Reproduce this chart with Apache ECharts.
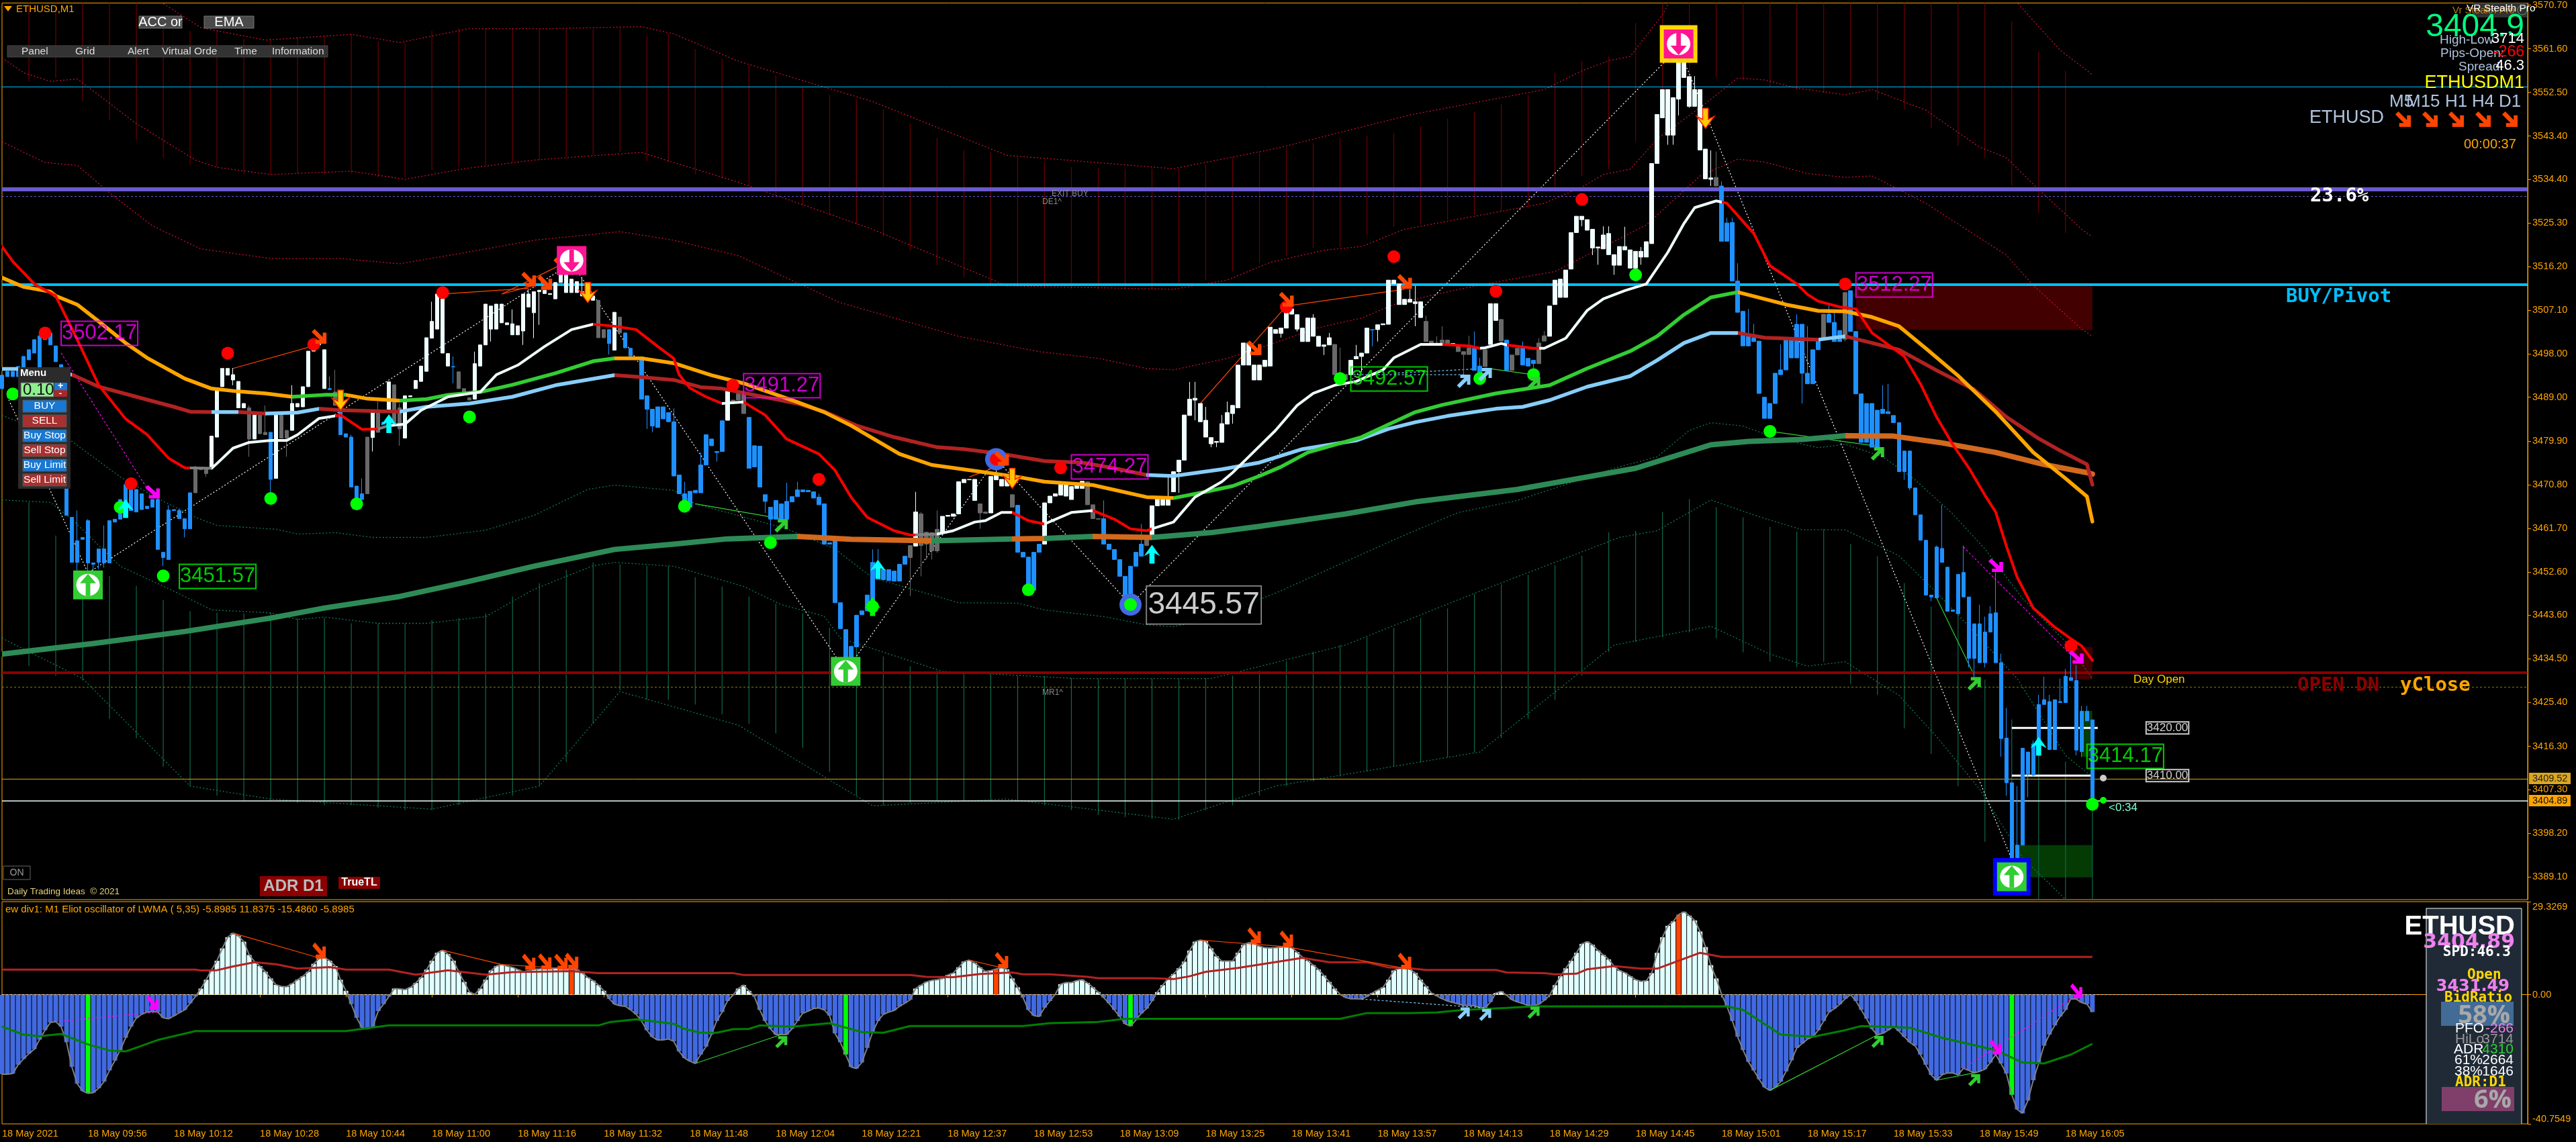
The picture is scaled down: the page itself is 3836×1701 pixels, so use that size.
<!DOCTYPE html>
<html><head><meta charset="utf-8">
<style>html,body{margin:0;padding:0;background:#000;overflow:hidden}#c{width:3836px;height:1701px}</style>
<script src="https://cdn.jsdelivr.net/npm/echarts@6/dist/echarts.min.js"></script></head>
<body><div id="c"></div>
<script>
const tickLabels=['18 May 2021','18 May 09:56','18 May 10:12','18 May 10:28','18 May 10:44','18 May 11:00','18 May 11:16','18 May 11:32','18 May 11:48','18 May 12:04','18 May 12:21','18 May 12:37','18 May 12:53','18 May 13:09','18 May 13:25','18 May 13:41','18 May 13:57','18 May 14:13','18 May 14:29','18 May 14:45','18 May 15:01','18 May 15:17','18 May 15:33','18 May 15:49','18 May 16:05'];
const priceTicks=[3570.7,3561.6,3552.5,3543.4,3534.4,3525.3,3516.2,3507.1,3498.0,3489.0,3479.9,3470.8,3461.7,3452.6,3443.6,3434.5,3425.4,3416.3,3407.3,3398.2,3389.1];
const oscTicks=[-40.7549,0,29.3269];
const bodyTop=[3493.6,3494.4,3494.4,3495.4,3497.5,3498.9,3501.0,3501.8,3501.8,3502.4,
3499.7,3495.8,3482.1,3464.0,3459.1,3459.8,3463.3,3454.5,3457.4,3457.4,
3463.3,3463.6,3467.7,3470.8,3470.8,3469.8,3468.9,3466.3,3467.7,3467.7,
3456.7,3465.5,3465.6,3465.4,3463.7,3469.1,3474.5,3474.2,3474.2,3480.9,
3490.9,3495.0,3495.0,3493.7,3492.3,3487.7,3486.8,3485.3,3485.3,3481.7,
3481.7,3485.3,3485.3,3482.1,3487.7,3487.7,3491.2,3498.6,3500.0,3500.2,
3498.9,3490.8,3490.1,3487.7,3481.4,3480.7,3470.5,3468.9,3480.7,3485.9,
3486.3,3483.8,3492.2,3491.6,3486.8,3489.3,3489.3,3492.5,3495.5,3501.4,
3504.8,3510.5,3510.5,3498.1,3495.4,3494.3,3490.8,3488.9,3496.0,3499.9,
3508.4,3508.0,3508.4,3508.4,3504.5,3504.3,3503.9,3510.5,3510.5,3511.0,
3511.3,3511.3,3510.6,3512.9,3514.8,3514.5,3513.6,3513.1,3511.0,3512.6,
3510.1,3509.2,3503.1,3503.1,3506.7,3505.7,3502.4,3499.2,3497.4,3497.4,
3489.3,3486.5,3487.0,3487.0,3485.8,3483.9,3472.8,3468.9,3469.4,3469.6,
3474.9,3481.2,3480.3,3477.7,3484.1,3490.5,3488.4,3489.7,3489.7,3484.8,
3478.9,3478.8,3468.7,3466.1,3467.5,3466.8,3467.3,3468.3,3469.7,3469.7,
3469.6,3469.3,3468.2,3466.8,3458.7,3459.4,3446.2,3440.6,3437.1,3443.6,
3444.5,3447.8,3454.6,3453.1,3453.1,3453.1,3452.8,3454.2,3455.9,3458.1,
3465.1,3464.7,3460.9,3460.8,3461.5,3464.2,3464.4,3464.7,3471.4,3471.9,
3471.9,3471.9,3466.8,3465.1,3472.5,3472.8,3471.9,3472.4,3468.7,3466.5,
3456.7,3455.7,3456.7,3458.4,3467.0,3468.4,3468.9,3470.8,3471.0,3470.4,
3471.1,3471.5,3471.4,3466.6,3463.7,3463.7,3458.4,3457.3,3455.2,3451.7,
3453.8,3456.7,3458.4,3459.5,3466.4,3467.9,3467.7,3467.9,3473.5,3475.9,
3485.3,3488.6,3488.8,3487.7,3484.2,3480.6,3479.8,3483.5,3485.8,3487.3,
3495.7,3500.3,3500.3,3495.7,3495.7,3496.7,3503.6,3503.1,3503.4,3507.6,
3507.4,3506.2,3503.4,3505.5,3505.5,3501.7,3499.9,3501.4,3500.0,3493.7,
3493.7,3496.7,3497.5,3498.2,3503.4,3503.1,3504.1,3504.3,3513.4,3513.4,
3512.6,3509.4,3509.4,3508.9,3508.9,3504.8,3500.7,3500.3,3500.9,3500.9,
3500.2,3499.6,3498.5,3499.3,3499.2,3495.5,3498.9,3508.5,3508.5,3505.2,
3500.9,3497.8,3499.2,3499.2,3497.1,3496.7,3500.3,3501.8,3508.0,3513.4,
3513.6,3515.5,3523.3,3526.7,3526.7,3526.0,3524.0,3520.3,3522.8,3523.1,
3518.7,3520.4,3520.4,3519.7,3519.4,3519.4,3521.4,3537.7,3547.9,3553.1,
3553.1,3551.4,3561.9,3560.8,3555.8,3553.1,3553.1,3540.7,3534.7,3534.8,
3533.0,3525.3,3525.4,3513.2,3506.9,3501.7,3501.4,3500.7,3489.0,3487.7,
3494.0,3494.7,3501.1,3500.9,3504.2,3504.2,3494.0,3498.9,3500.9,3506.3,
3506.3,3504.6,3502.9,3510.8,3511.2,3502.7,3489.7,3487.7,3487.7,3486.3,
3486.5,3486.0,3485.2,3483.7,3477.8,3477.8,3470.1,3464.5,3459.2,3447.8,
3457.8,3457.5,3453.6,3444.7,3452.1,3452.5,3447.4,3441.8,3441.8,3440.1,
3443.9,3444.1,3433.7,3418.0,3408.7,3395.7,3415.9,3415.1,3416.8,3425.0,
3426.0,3425.6,3426.0,3425.6,3430.9,3430.6,3430.0,3423.6,3423.6,3421.8];
const bodyBottom=[3490.8,3493.3,3493.3,3493.3,3494.7,3496.8,3498.2,3493.3,3501.0,3499.9,
3496.4,3482.1,3464.4,3454.6,3454.6,3459.4,3454.5,3454.2,3454.6,3454.5,
3454.5,3463.0,3463.6,3464.0,3465.4,3465.1,3465.6,3465.8,3466.1,3457.3,
3455.6,3455.2,3465.4,3463.7,3461.6,3461.6,3469.1,3473.9,3473.1,3474.2,
3480.7,3491.2,3493.6,3492.6,3486.8,3486.8,3480.3,3480.3,3481.4,3481.2,
3471.9,3472.1,3480.5,3480.5,3482.1,3487.0,3487.0,3491.2,3498.6,3499.9,
3490.8,3490.6,3487.3,3481.2,3480.7,3470.3,3467.9,3467.7,3468.9,3480.6,
3481.7,3483.4,3486.3,3483.5,3482.4,3480.5,3489.1,3490.8,3492.3,3494.4,
3501.3,3503.2,3498.2,3495.5,3495.3,3490.8,3489.8,3488.4,3488.6,3495.5,
3499.9,3503.2,3503.2,3504.5,3504.1,3502.0,3502.0,3502.8,3507.8,3506.6,
3511.0,3510.6,3510.4,3509.5,3512.9,3510.8,3510.8,3510.8,3510.1,3510.1,
3509.2,3501.4,3501.4,3500.2,3498.8,3502.4,3499.3,3497.6,3497.1,3488.6,
3486.5,3483.0,3482.7,3484.5,3483.9,3472.6,3468.9,3466.1,3466.1,3469.1,
3469.1,3474.9,3478.9,3477.5,3477.7,3484.2,3487.9,3488.4,3485.6,3474.2,
3474.5,3470.3,3467.3,3463.6,3463.6,3463.6,3463.6,3467.2,3468.3,3469.3,
3469.3,3468.0,3466.6,3458.4,3458.4,3446.2,3440.8,3434.2,3434.2,3437.0,
3443.7,3444.5,3445.8,3451.1,3451.0,3450.8,3450.7,3450.7,3454.2,3455.6,
3458.0,3458.1,3458.4,3457.0,3457.0,3460.8,3464.2,3464.2,3464.7,3471.2,
3471.8,3467.5,3464.9,3464.8,3464.9,3471.8,3470.5,3470.5,3466.1,3456.7,
3455.7,3448.8,3448.8,3456.7,3458.4,3467.0,3468.4,3468.6,3468.4,3467.7,
3470.0,3470.0,3466.6,3463.7,3463.6,3458.4,3457.3,3455.2,3451.7,3447.6,
3447.0,3453.8,3455.9,3458.1,3460.2,3466.4,3466.5,3466.5,3469.3,3473.5,
3475.9,3485.2,3488.4,3483.9,3480.7,3479.3,3479.6,3479.6,3483.4,3485.6,
3486.8,3495.7,3495.7,3492.6,3492.6,3495.4,3495.5,3502.3,3502.3,3503.4,
3506.3,3503.2,3500.6,3500.6,3501.7,3499.6,3499.6,3499.9,3493.7,3492.6,
3492.6,3493.7,3497.0,3497.5,3498.2,3503.0,3503.1,3504.1,3504.2,3512.6,
3508.3,3508.3,3508.8,3508.5,3505.6,3500.6,3500.2,3500.0,3500.0,3500.0,
3499.9,3498.5,3497.9,3497.9,3494.6,3493.7,3495.4,3500.0,3505.0,3500.7,
3494.6,3494.6,3497.8,3495.7,3495.5,3496.0,3496.0,3500.7,3501.7,3508.3,
3509.8,3509.8,3515.7,3523.3,3526.0,3523.8,3520.1,3520.1,3519.9,3518.7,
3516.5,3516.5,3519.7,3515.9,3515.9,3518.2,3518.2,3521.0,3537.7,3547.2,
3543.6,3543.6,3551.1,3555.6,3549.6,3549.6,3540.5,3534.5,3534.4,3533.0,
3521.5,3521.5,3513.2,3506.7,3499.7,3499.7,3500.6,3489.8,3484.6,3484.6,
3487.7,3493.7,3494.7,3497.2,3497.2,3494.0,3491.8,3491.8,3498.9,3500.9,
3504.6,3500.6,3500.6,3501.1,3502.7,3489.7,3479.6,3479.6,3478.6,3478.6,
3485.6,3485.6,3483.7,3473.5,3473.5,3470.1,3464.5,3459.2,3447.8,3447.4,
3447.2,3454.6,3444.4,3444.4,3443.9,3447.4,3434.6,3434.6,3433.7,3433.7,
3440.1,3433.7,3417.9,3408.7,3392.6,3392.3,3395.7,3410.5,3410.3,3416.8,
3425.0,3415.6,3415.6,3425.4,3425.4,3430.0,3415.5,3415.2,3421.6,3404.89];
const wickHighs=[[14,3465.4],[16,3463.6],[19,3462.3],[29,3467.9],[31,3466.5],[33,3465.8],[36,3474.7],[43,3495.1],[46,3487.3],[49,3487.3],[54,3491.5],[61,3493.3],[62,3494.7],[65,3481.2],[67,3472.1],[70,3488.1],[74,3487.7],[77,3492.6],[80,3508.9],[84,3497.5],[88,3498.5],[95,3507.3],[98,3511.5],[104,3516.4],[108,3514.0],[125,3486.7],[127,3471.4],[130,3477.5],[146,3471.2],[148,3471.4],[152,3468.9],[162,3457.3],[163,3457.4],[170,3469.3],[171,3465.1],[174,3465.4],[185,3474.2],[205,3467.5],[212,3462.6],[217,3472.8],[221,3492.2],[222,3492.2],[224,3487.0],[227,3485.3],[228,3488.1],[244,3506.3],[247,3502.4],[249,3499.3],[252,3499.9],[262,3511.5],[263,3512.2],[265,3506.0],[267,3501.7],[268,3503.8],[273,3501.8],[274,3502.7],[275,3497.2],[283,3500.6],[286,3501.3],[287,3502.8],[298,3524.6],[299,3524.6],[302,3524.5],[305,3520.3],[308,3540.2],[312,3563.6],[315,3555.9],[318,3540.4],[319,3540.2],[320,3534.0],[321,3526.4],[322,3526.4],[323,3516.9],[325,3507.4],[326,3504.3],[331,3500.0],[334,3506.3],[336,3503.8],[340,3508.3],[341,3506.6],[350,3491.5],[351,3491.8],[361,3466.5],[360,3458.1],[365,3458.1],[368,3445.8],[369,3443.3],[370,3445.5],[371,3452.5],[372,3435.6],[373,3424.3],[375,3408.0],[378,3417.5],[379,3427.0],[380,3430.8],[381,3427.0],[383,3430.4],[384,3432.4],[385,3437.1],[386,3433.2],[387,3424.7],[388,3424.7]];
const wickLows=[[14,3452.8],[16,3449.6],[17,3452.4],[18,3453.2],[19,3453.5],[30,3453.8],[34,3459.8],[38,3472.4],[43,3491.5],[46,3476.6],[50,3468.2],[53,3476.6],[69,3477.7],[74,3478.9],[84,3491.9],[91,3500.6],[97,3499.9],[99,3501.3],[100,3504.1],[113,3497.9],[120,3482.4],[121,3481.7],[127,3464.9],[133,3475.6],[142,3464.9],[143,3460.0],[169,3447.6],[171,3451.7],[172,3455.2],[173,3455.2],[174,3456.6],[182,3461.6],[219,3469.1],[222,3484.2],[225,3478.6],[226,3478.6],[227,3479.6],[229,3483.5],[238,3501.4],[241,3502.7],[245,3499.9],[246,3497.8],[253,3494.3],[255,3499.6],[256,3500.6],[263,3503.8],[272,3493.7],[285,3493.3],[294,3524.6],[296,3518.6],[297,3516.6],[300,3514.5],[304,3513.2],[305,3516.6],[307,3533.7],[310,3541.6],[311,3541.6],[312,3547.7],[314,3549.3],[318,3533.0],[335,3487.7],[343,3500.6],[354,3471.8],[355,3469.6],[359,3446.5],[366,3432.7],[367,3430.4],[369,3432.7],[372,3414.1],[373,3406.0],[374,3388.7],[377,3405.7],[378,3409.9],[386,3414.4],[387,3414.1]];
const candleRuns=[[0,'b'],[36,'g'],[39,'w'],[46,'g'],[47,'w'],[48,'g'],[50,'b'],[51,'w'],[52,'g'],[54,'w'],[61,'b'],[62,'g'],[63,'b'],[68,'g'],[69,'w'],[70,'g'],[71,'b'],[72,'w'],[73,'g'],[75,'w'],[84,'b'],[85,'g'],[88,'w'],[111,'g'],[113,'b'],[114,'w'],[115,'g'],[116,'b'],[135,'w'],[136,'g'],[139,'b'],[169,'g'],[170,'w'],[171,'g'],[175,'w'],[182,'g'],[184,'w'],[188,'g'],[189,'b'],[194,'w'],[202,'g'],[205,'b'],[213,'g'],[214,'w'],[248,'g'],[251,'w'],[255,'b'],[256,'w'],[265,'g'],[270,'w'],[271,'g'],[274,'b'],[276,'g'],[277,'w'],[279,'g'],[280,'b'],[281,'g'],[283,'b'],[286,'g'],[288,'w'],[319,'g'],[320,'b'],[339,'g'],[340,'b'],[343,'g'],[344,'b']];
const fastMA=[[0,3520.4],[2,3517.3],[6,3512.6],[10,3510.1],[14,3501.0],[18,3491.5],[23,3484.5],[27,3481.2],[31,3476.3],[34,3474.3],[39,3474.2],[40,3475.2],[43,3478.4],[46,3479.6],[50,3480.0],[53,3480.0],[55,3481.2],[59,3484.6],[63,3485.3],[67,3482.3],[70,3482.4],[72,3483.1],[75,3483.4],[78,3486.3],[83,3489.1],[89,3490.1],[92,3493.7],[96,3495.7],[101,3499.6],[106,3503.1],[110,3504.2],[114,3503.8],[118,3503.1],[122,3499.6],[125,3497.1],[126,3493.7],[128,3490.9],[131,3489.1],[134,3487.7],[138,3488.0],[142,3485.3],[146,3480.3],[152,3477.2],[155,3473.8],[158,3468.2],[161,3464.0],[166,3461.2],[169,3460.3],[174,3460.5],[177,3461.2],[181,3463.0],[183,3463.3],[186,3465.0],[188,3465.0],[191,3463.3],[194,3462.6],[199,3465.0],[203,3465.4],[207,3463.6],[210,3461.6],[213,3461.2],[214,3461.6],[218,3463.0],[222,3468.2],[227,3471.4],[229,3473.3],[232,3476.6],[237,3482.1],[241,3487.3],[244,3489.8],[248,3491.5],[252,3492.3],[257,3494.7],[259,3497.2],[264,3500.0],[268,3500.0],[273,3499.7],[275,3499.2],[276,3499.3],[279,3500.2],[280,3499.9],[285,3499.2],[287,3499.2],[291,3501.3],[295,3507.1],[298,3509.5],[302,3511.2],[306,3512.6],[310,3519.2],[313,3525.2],[315,3528.5],[319,3529.9],[321,3529.4],[326,3523.1],[329,3516.4],[334,3512.6],[336,3510.4],[338,3509.0],[342,3507.8],[345,3507.4],[348,3502.4],[354,3497.5],[357,3491.8],[360,3484.9],[363,3479.2],[366,3474.3],[369,3468.6],[371,3465.1],[373,3458.0],[375,3451.5],[378,3445.1],[382,3441.1],[385,3438.7],[387,3437.2],[389,3434.2]];
const midMA=[[0,3513.9],[4,3512.0],[9,3511.0],[10,3510.1],[14,3508.3],[18,3504.8],[23,3500.3],[27,3497.2],[34,3492.9],[39,3490.8],[44,3490.2],[49,3489.8],[54,3489.1],[60,3489.5],[64,3489.5],[68,3488.7],[74,3488.3],[79,3488.6],[83,3489.5],[89,3490.1],[95,3491.6],[103,3494.0],[110,3496.5],[114,3497.1],[119,3497.1],[125,3496.1],[132,3493.6],[138,3491.9],[148,3488.0],[153,3485.9],[158,3483.1],[167,3477.2],[173,3474.9],[182,3473.5],[189,3472.4],[194,3471.4],[203,3470.7],[213,3468.2],[218,3468.0],[224,3469.3],[229,3470.5],[234,3472.6],[238,3474.5],[243,3477.5],[253,3480.7],[263,3485.9],[268,3487.4],[278,3489.8],[288,3491.5],[295,3495.0],[303,3498.6],[308,3501.7],[313,3506.2],[318,3509.8],[323,3510.9],[332,3508.3],[338,3507.0],[343,3506.9],[348,3505.7],[353,3503.8],[358,3499.2],[364,3493.5],[371,3486.0],[378,3477.5],[384,3472.1],[388,3468.3],[389,3463.1]];
const slowMA=[[0,3494.9],[3,3494.9],[13,3493.7],[18,3491.2],[25,3489.1],[32,3487.0],[35,3486.0],[39,3485.9],[44,3485.9],[49,3485.6],[55,3485.8],[59,3486.6],[63,3486.3],[74,3486.0],[79,3487.0],[87,3487.7],[95,3489.1],[103,3491.5],[114,3493.6],[119,3493.2],[125,3492.6],[130,3491.1],[134,3490.8],[148,3487.7],[153,3486.0],[159,3483.1],[166,3480.7],[174,3478.6],[179,3478.2],[186,3477.2],[194,3475.7],[201,3475.4],[207,3474.2],[213,3472.8],[218,3472.6],[227,3474.0],[234,3475.4],[242,3478.2],[252,3480.0],[258,3482.4],[263,3483.8],[269,3485.1],[278,3486.6],[283,3487.0],[288,3488.4],[295,3491.2],[303,3493.4],[308,3496.7],[313,3500.3],[318,3502.4],[323,3502.4],[328,3501.4],[338,3501.0],[343,3501.7],[353,3498.9],[360,3494.6],[367,3490.6],[373,3484.9],[379,3480.4],[383,3477.9],[388,3475.0],[389,3470.8]];
const trendMA=[[0,3435.5],[17,3437.7],[34,3440.2],[50,3443.0],[60,3445.1],[74,3447.5],[86,3450.4],[99,3453.8],[114,3457.3],[125,3458.4],[135,3459.5],[148,3460.0],[158,3459.4],[168,3459.2],[173,3459.1],[188,3459.5],[194,3459.6],[203,3460.0],[214,3459.8],[225,3460.8],[234,3462.1],[250,3464.7],[263,3467.2],[282,3469.8],[295,3472.4],[304,3474.2],[318,3479.1],[325,3479.8],[335,3480.2],[343,3481.0],[352,3480.9],[361,3479.5],[371,3477.5],[380,3475.0],[388,3473.3],[389,3473.0]];
const fastRuns=[[0,35,'r'],[35,39,'g'],[39,62,'w'],[62,70,'r'],[70,72,'g'],[72,110,'w'],[110,134,'r'],[134,138,'w'],[138,170,'r'],[170,174,'g'],[174,188,'w'],[188,194,'r'],[194,203,'w'],[203,214,'r'],[214,268,'w'],[268,275,'r'],[275,280,'w'],[280,286,'r'],[286,320,'w'],[320,390,'r']];
const midRuns=[[0,54,'o'],[54,64,'l'],[64,74,'o'],[74,114,'l'],[114,218,'o'],[218,323,'l'],[323,390,'o']];
const slowRuns=[[0,13,'s'],[13,39,'f'],[39,44,'s'],[44,49,'f'],[49,59,'s'],[59,74,'f'],[74,114,'s'],[114,213,'f'],[213,323,'s'],[323,338,'f'],[338,343,'s'],[343,390,'f']];
const trendRuns=[[0,148,'e'],[148,173,'c'],[173,188,'e'],[188,194,'c'],[194,203,'e'],[203,214,'c'],[214,343,'e'],[343,390,'c']];
const redBandA=[[29,3575],[30,3571],[37,3566],[49,3563.4],[65,3564.6],[74,3562.9],[87,3565.8],[103,3565.8],[119,3566.2],[125,3564.7],[137,3559],[162,3550.6],[187,3539.4],[218,3536.6],[237,3540.8],[262,3547.8],[287,3553.1],[294,3557],[299,3559.1],[303,3560],[309,3568.7],[312,3575],[372,3575],[377,3568.7],[383,3561.3],[387,3557.9],[389,3556.2]];
const redBandB=[[0,3559.7],[4,3556.6],[9,3554.8],[14,3555.3],[25,3546],[36,3538.4],[40,3536.9],[50,3535.4],[65,3536.1],[75,3534.4],[86,3536.6],[99,3538.4],[111,3539.4],[119,3540],[125,3537.9],[137,3533.8],[162,3524],[187,3512.2],[218,3511.5],[228,3513.4],[236,3517.1],[246,3519.6],[253,3520.4],[261,3524],[287,3529.4],[294,3532.8],[298,3535.4],[303,3536.5],[308,3542.8],[317,3550.2],[323,3555.5],[328,3555.1],[334,3553.4],[343,3552],[348,3553.1],[358,3548.8],[368,3541.1],[373,3538.9],[379,3532.3],[387,3524],[389,3522.4]];
const redBandC=[[0,3542.2],[8,3537.9],[14,3537.3],[20,3531.6],[28,3524.7],[37,3519.9],[50,3517.9],[63,3517.9],[74,3516.8],[85,3518.9],[99,3521.7],[115,3523.5],[125,3521.7],[137,3518.5],[156,3508.7],[178,3501.7],[193,3498.5],[204,3497.1],[213,3495],[218,3494.7],[228,3497.1],[236,3500],[245,3503.5],[253,3505.5],[259,3508.3],[267,3510.5],[276,3512.6],[289,3515.2],[296,3519.2],[306,3524.9],[316,3535.1],[323,3538.6],[328,3538],[336,3535.6],[343,3534.8],[348,3535.1],[358,3529.4],[373,3518.6],[378,3512.3],[387,3503.2],[389,3501.7]];
const greenBandU=[[0,3485.2],[13,3479.8],[22,3472.4],[29,3467.9],[36,3464],[40,3462.3],[51,3461.5],[55,3460.5],[62,3460.8],[69,3459.8],[79,3459.8],[90,3461.3],[99,3464.4],[109,3469.8],[114,3470.7],[125,3469.6],[129,3466.8],[146,3461.6],[155,3457.4],[162,3451.4],[178,3446.2],[189,3446.1],[194,3444.7],[205,3443.3],[213,3441.6],[218,3441.2],[225,3443],[237,3448.2],[260,3459.8],[271,3465],[282,3467.5],[300,3474.2],[308,3476.6],[314,3482.1],[318,3483.7],[324,3483],[330,3480.5],[338,3478.5],[343,3479.2],[350,3476.6],[356,3471.8],[363,3464.7],[369,3457.4],[376,3447.1],[384,3438.1],[389,3430.4]];
const greenBandM=[[0,3467.6],[9,3467.1],[13,3463.6],[22,3453.8],[32,3448.6],[39,3444.7],[50,3444.1],[55,3442.7],[60,3443.2],[70,3441.9],[79,3441.9],[90,3443.3],[99,3449],[110,3453.9],[114,3454.6],[125,3453.8],[138,3449.6],[145,3445.8],[153,3443.4],[156,3438.8],[175,3431.9],[200,3430.4],[225,3430.4],[250,3437.4],[275,3448.6],[301,3459.8],[308,3461.2],[318,3467.6],[327,3464.1],[335,3461.4],[343,3461.4],[353,3456],[360,3448.3],[366,3441.3],[375,3430.4],[384,3414.4],[389,3409.9]];
const greenBandB=[[0,3438.8],[15,3430.4],[35,3408],[50,3405.3],[80,3403.2],[100,3408],[115,3427.7],[137,3420.7],[162,3403.9],[187,3405.3],[218,3401.1],[237,3408],[275,3415.1],[300,3437.4],[318,3441.3],[329,3435.5],[336,3433],[343,3433.9],[353,3426.9],[360,3418.3],[368,3407.4],[376,3393.1],[384,3384.4]];
const redFan=[[5,3572,3554.8],[10,3572,3555.5],[15,3572,3550.6],[20,3572,3546.7],[25,3572,3542.6],[30,3565.7,3538.9],[35,3565.3,3537.3],[40,3565.3,3536.9],[45,3563.7,3535.5],[50,3563.7,3535.4],[55,3564,3535.5],[60,3564.3,3535.5],[65,3564.6,3535.6],[70,3563.2,3534.8],[75,3562.9,3534.8],[80,3565.3,3536.3],[85,3565.9,3536.9],[90,3565.8,3537.3],[95,3565.8,3537.9],[100,3565.8,3538.4],[105,3565.7,3539.1],[110,3565.7,3539.4],[115,3566.2,3540.1],[120,3564.3,3538.2],[124,3564.7,3537.9],[129,3561.5,3535.5],[134,3559.5,3534.5],[139,3558,3533],[144,3556,3531],[149,3553.5,3529],[154,3552,3527],[159,3551,3525],[164,3549,3522.5],[169,3546,3519.5],[174,3543,3516.5],[179,3540.5,3514],[184,3540,3512.5],[189,3539,3512],[194,3538,3511.8],[199,3537,3511.6],[204,3536.8,3511.5],[209,3536.6,3511.5],[214,3536.6,3511.5],[219,3536.6,3512.9],[224,3537.5,3513.4],[229,3539,3515.2],[234,3540,3516.9],[239,3541,3518.5],[244,3542,3520.1],[249,3543,3520.3],[254,3543.5,3522.9],[259,3544,3524.5],[264,3545.5,3525],[269,3547,3526],[274,3548.5,3527],[279,3550,3527.7],[284,3552,3528.5],[289,3556.6,3532.8],[294,3559.1,3535.1],[299,3560,3536.5],[304,3567,3542.2],[309,3572,3549.3],[314,3572,3551.3],[319,3572,3555.6],[324,3572,3555.2],[329,3572,3553.7],[334,3572,3553.1],[339,3572,3552.3],[344,3572,3553.4],[349,3572,3550.9],[354,3572,3549],[359,3572,3545.1],[364,3572,3541.4],[369,3572,3538.9],[374,3567.3,3533.1],[379,3561,3527.4],[384,3557,3523.2]];
const greenFan=[[5,3467.1,3433],[10,3460.2,3431],[15,3452.4,3430],[20,3451.8,3422],[25,3449.7,3418],[30,3446.8,3412],[35,3444.4,3408],[40,3444.1,3406],[45,3444,3405],[50,3444.1,3405],[55,3443,3404.5],[60,3443,3404],[65,3441.9,3404],[70,3441.9,3403.5],[75,3441.9,3403],[80,3442.6,3403],[85,3443,3404],[90,3444,3405],[95,3447.5,3406],[100,3450.3,3408],[105,3453.1,3413],[110,3454.6,3421],[115,3454.2,3428],[120,3453.9,3426],[124,3453.9,3426],[129,3451.5,3425],[134,3449.6,3423],[139,3447.5,3421],[144,3446,3419],[149,3444,3416],[154,3441,3411],[159,3437,3406],[164,3435,3404],[169,3433,3404.5],[174,3432,3405],[179,3431.7,3405],[184,3431.5,3405],[189,3431,3405],[194,3431,3404],[199,3430.5,3403],[204,3430.4,3402],[209,3430.4,3401.5],[214,3430.4,3401.2],[219,3430.4,3401],[224,3430.5,3403],[229,3431,3404],[234,3432,3406],[239,3434,3408],[244,3436,3409],[249,3437.4,3410],[254,3439,3411],[259,3441,3412],[264,3443,3413],[269,3445,3414],[274,3448,3415],[279,3450,3418],[284,3452,3422],[289,3454,3426],[294,3456,3431],[299,3460.9,3436],[304,3461.2,3438],[309,3465.1,3439],[314,3467.8,3440],[319,3466.1,3438.8],[324,3464,3435.9],[329,3462,3433.9],[334,3461,3432.8],[339,3461.5,3433.9],[344,3458.4,3429.3],[349,3455.9,3427],[354,3450.3,3420],[359,3445.4,3414.7],[364,3443.9,3408],[369,3430.2,3396.4],[374,3421.9,3388.7],[379,3416.9,3384.4],[384,3413.1,3384.4],[389,3404.8,3384.4]];
const levelThinCyan=3553.66,levelPurple=3532.36,levelPurpleDash=3530.9,levelPivot=3512.45,levelOpen=3431.6,levelOpenDash=3428.6,levelAsk=3409.52,levelBid=3404.89;
const shortLevels=[[374,3420.1,390],[374,3410.2,389]];
const zones=[[345,389,3512.3,3503.0,'r'],[385,389,3437,3430.2,'r'],[375,389,3395.7,3389,'g'],[387,389,3423.7,3414.1,'g']];
const zigzag=[[1,3489.1],[16,3452.4],[106,3517],[157,3431.9],[185,3476.1],[210,3445.8],[312,3561.8],[374,3392.7]];
const trendOrange=[[[43,3495],[58,3499.7]],[[82,3510.5],[98,3511.7]],[[93,3510.5],[104,3516.6]],[[93,3510.5],[101,3512.9]],[[180,3472.4],[186,3474.9]],[[223,3487.7],[239,3508]],[[239,3508],[261,3511.5]]];
const trendGreen=[[[129,3466.8],[145,3463.7]],[[276,3495.1],[285,3493.7]],[[329,3481.9],[349,3478.8]],[[360,3447.2],[367,3431.1]]];
const trendMagenta=[[[11,3498.2],[27,3470]],[[365,3457.8],[385,3435.3]]];
const trendLight=[[[250,3493.7],[272,3493.7]],[[259,3494],[276,3495]]];
const redDots=[[8,3502.4],[24,3471],[42,3498.2],[58,3500],[82,3510.8],[136,3491.5],[152,3471.9],[185,3476.1],[197,3474.3],[239,3507.8],[259,3518.3],[278,3511.1],[294,3530.2],[343,3512.6],[385,3437.2]];
const greenDots=[[2,3489.7],[22,3466.1],[30,3451.8],[50,3467.9],[66,3466.8],[87,3484.9],[127,3466.3],[143,3458.7],[162,3445.4],[191,3448.9],[210,3445.8],[249,3492.9],[275,3492.9],[285,3493.7],[304,3514.5],[329,3481.9],[389,3404.2]];
const haloDots=[[185,3476.1],[210,3445.8]];
const arrowsOrange=[[59,3501.7],[98,3513.6],[101,3512.9],[104,3516.6],[106,3518.9],[186,3476.3],[233,3499.3],[239,3509.4],[261,3513.1]];
const arrowsMagenta=[[28,3469.3],[371,3454],[386,3434.9]];
const arrowsGreen=[[145,3462.2],[285,3491.9],[349,3477.2],[367,3429.3]];
const arrowsLight=[[272,3492.3],[276,3493.7]];
const arrowsCyan=[[23,3465.8],[72,3483.5],[163,3453.2],[214,3456.3],[379,3416.3]];
const arrowsLime=[[162,3445.4]];
const arrowsGold=[[63,3488.4],[109,3510.8],[188,3472.1],[317,3547.1]];
const iconsDown=[[106,3517.5],[312,3562.6]];
const iconsUp=[[16,3449.9],[157,3431.9],[374,3389.1]];
const iconFrames=[[312,3562.6],[374,3389.1]];
const priceTags=[[11,3502.3,'3502.17'],[33,3451.7,'3451.57'],[138,3491.4,'3491.27'],[199,3474.5,'3474.27'],[213,3445.7,'3445.57'],[251,3492.8,'3492.57'],[345,3512.4,'3512.27'],[388,3414.2,'3414.17'],[399,3420.1,'3420.00'],[399,3410.2,'3410.00']];
const oscValues=[-25.1,-25.1,-24.9,-22.1,-20.3,-18.6,-17.2,-14.2,-11.2,-8.8,-8.5,-10.1,-15.0,-22.8,-28.1,-30.4,-31.1,-30.9,-29.5,-27.4,-23.9,-20.8,-17.5,-13.6,-10.1,-7.4,-6.2,-5.5,-5.3,-5.5,-7.3,-7.6,-6.7,-5.7,-4.8,-2.7,-0.6,1.9,4.7,7.9,10.7,14.6,18.1,19.4,18.5,16.7,12.5,10.4,9.0,7.2,5.1,3.1,2.6,2.5,3.5,4.7,5.8,7.2,9.7,11.4,11.6,10.7,9.0,4.7,1.2,-3.0,-7.3,-10.4,-10.8,-10.1,-5.2,-3.0,-0.6,1.9,1.8,1.6,2.3,3.7,5.4,7.9,10.7,13.2,14.0,12.8,10.7,7.2,4.0,0.8,0.1,1.9,4.7,7.6,9.0,9.5,9.0,8.6,7.9,7.2,7.6,8.0,8.1,8.3,8.1,8.3,8.4,8.1,8.1,7.9,6.8,5.4,4.4,3.0,1.2,-1.3,-3.0,-3.5,-3.7,-4.8,-6.2,-8.3,-11.2,-13.3,-14.3,-14.3,-14.0,
-14.7,-17.9,-20.0,-21.0,-21.7,-18.9,-16.4,-12.6,-8.3,-5.5,-2.0,-0.2,1.9,3.0,1.2,-0.6,-4.8,-8.3,-10.8,-12.6,-12.6,-12.6,-10.8,-8.3,-5.9,-5.2,-4.4,-4.2,-4.8,-6.6,-12.2,-15.0,-18.9,-22.8,-23.3,-21.4,-16.8,-11.9,-8.3,-6.2,-5.5,-5.0,-3.7,-2.7,-1.6,1.9,3.0,4.0,4.5,4.7,5.1,6.2,6.8,8.6,10.4,10.9,10.0,8.6,7.3,7.6,8.1,8.5,8.0,5.1,2.3,-0.9,-4.8,-6.6,-6.9,-4.1,-2.0,0.1,3.3,3.8,3.8,4.4,4.7,3.7,2.3,0.8,-0.9,-2.7,-4.8,-6.9,-9.2,-9.9,-8.0,-5.9,-4.4,-2.0,0.8,3.0,5.1,6.5,8.3,10.4,13.9,16.7,17.2,16.9,14.6,12.1,10.6,10.6,10.6,13.2,15.7,16.4,16.2,15.3,14.8,14.7,14.8,15.0,15.1,14.8,13.4,11.8,10.7,9.3,7.9,6.0,4.0,1.9,0.1,-0.9,-1.3,-1.3,-1.4,-0.6,0.5,1.4,2.3,4.7,7.6,8.3,8.3,
8.0,6.8,4.7,2.6,0.5,-0.4,-1.3,-2.0,-2.5,-2.9,-3.4,-3.4,-3.5,-4.1,-4.2,-2.3,0.5,1.0,-0.2,-1.6,-2.3,-2.8,-3.4,-3.5,-3.0,-1.8,-0.2,3.0,5.8,8.3,10.7,13.2,16.0,16.7,15.7,13.9,12.5,11.1,9.0,7.6,6.9,5.8,4.7,4.2,4.4,6.8,13.2,18.1,21.7,23.1,25.2,26.1,24.9,23.4,19.9,15.0,9.3,5.1,0.1,-3.7,-8.3,-13.3,-17.5,-21.2,-23.9,-26.7,-29.2,-30.2,-29.2,-27.4,-24.2,-20.7,-16.8,-15.4,-14.0,-13.3,-11.2,-8.3,-5.5,-4.4,-3.0,-1.3,0.0,-2.0,-4.8,-7.6,-10.8,-12.7,-12.2,-11.2,-10.1,-11.5,-13.3,-15.0,-16.1,-18.9,-22.1,-25.3,-27.0,-25.3,-24.7,-24.7,-25.3,-23.2,-23.9,-24.7,-24.2,-23.5,-21.4,-18.9,-21.7,-24.9,-31.6,-36.2,-37.4,-33.4,-27.0,-21.7,-16.1,-12.6,-9.7,-6.9,-4.8,-1.3,-1.4,-2.5,-3.0,-5.5];
const oscLimeBars=[16,157,210,374];
const oscOrangeBars=[106,185,312];
const oscSignal=[[0,7.9],[36,7.9],[37,7.6],[40,7.7],[43,8.9],[47,10.2],[51,9.6],[55,8.2],[61,8.7],[64,7.9],[72,7.9],[77,6.3],[83,7.7],[90,6.3],[95,7.1],[106,7.4],[111,6.8],[125,6.8],[136,6.8],[138,6.2],[169,6.2],[172,5.6],[177,5.5],[182,6.5],[188,7.0],[190,6.4],[195,6.4],[202,5.6],[204,5.2],[214,5.2],[218,4.9],[221,5.8],[224,7.2],[230,8.4],[242,11.6],[247,10.2],[254,10.2],[258,8.6],[262,8.3],[265,7.8],[278,7.8],[280,7.0],[287,6.8],[289,6.4],[293,6.6],[295,8.0],[300,9.0],[305,8.2],[308,8.2],[316,13.2],[320,11.9],[389,11.9]];
const oscGreen=[[0,-10.1],[4,-12.6],[7,-13.1],[11,-12.4],[16,-15.7],[20,-17.6],[23,-17.9],[29,-14.3],[36,-11.5],[64,-11.5],[72,-9.7],[111,-9.7],[113,-8.7],[118,-7.8],[125,-9.2],[127,-10.8],[130,-12.0],[133,-12.0],[136,-10.9],[139,-10.8],[141,-9.7],[147,-10.1],[154,-9.0],[160,-11.8],[164,-12.0],[169,-9.9],[190,-9.9],[195,-9.0],[204,-8.6],[209,-7.6],[214,-7.6],[249,-7.6],[254,-5.8],[262,-5.8],[267,-5.6],[272,-4.8],[280,-4.2],[285,-3.7],[321,-3.7],[324,-4.8],[331,-12.6],[337,-13.3],[343,-11.2],[346,-9.9],[355,-10.4],[361,-13.6],[371,-17.5],[376,-21.4],[380,-21.7],[385,-18.9],[389,-15.5]];
const oscTrendOrange=[[[43,19.4],[59,11.6]],[[82,14],[93,9.5]],[[93,9.5],[106,8.1]],[[180,10.9],[186,8.5]],[[223,17.2],[239,15.1]],[[239,15.1],[261,8.3]]];
const oscTrendGreen=[[[129,-21.7],[145,-12.6]],[[329,-30.2],[349,-12.7]],[[360,-27],[367,-24.7]]];
const oscTrendMagenta=[[[10,-8.5],[29,-5.5]],[[365,-23.2],[385,-1.3]]];
const oscTrendLight=[[[253,-1.4],[276,-4.2]]];
const oscArrowsOrange=[[59,13.9],[98,10.4],[101,10.5],[104,10.4],[106,10.7],[186,10.9],[233,18.7],[239,17.7],[261,10.7]];
const oscArrowsMagenta=[[28,-2.5],[371,-16.5],[386,1.2]];
const oscArrowsGreen=[[145,-15],[285,-5.7],[349,-14.9],[367,-27]];
const oscArrowsLight=[[272,-5.9],[276,-6.4]];
const oscZero=[[0,0],[448,0]];

const ORANGE='#FFA500';
const CAT=Array.from({length:471},(_,i)=>i%16===0&&tickLabels[i/16]?tickLabels[i/16]:'');
const PAL={r:'#FF0000',w:'#F0FFFF',g:'#808080',o:'#FFA500',l:'#32CD32',s:'#87CEFA',f:'#B22222',e:'#2E8B57',c:'#D2691E'};
const CC={b:'#1E90FF',w:'#F0FFFF',g:'#696969'};
const hiMap=new Map(wickHighs),loMap=new Map(wickLows);
function stateOf(i){let s='b';for(const r of candleRuns){if(r[0]<=i)s=r[1];else break;}return s;}
const candleData=bodyTop.map((t,i)=>{const b=bodyBottom[i],c=CC[stateOf(i)];
 return {value:[b,t,Math.min(b,loMap.get(i)??b),Math.max(t,hiMap.get(i)??t)],itemStyle:{color:c,color0:c,borderColor:c,borderColor0:c,borderWidth:1}};});
const SE='path://M20 0L0 20L55 75L25 75L25 100L100 100L100 25L75 25L75 55Z';
const UP='path://M50 0L100 60L66 45L66 100L34 100L34 45L0 60Z';
const DOWN='path://M34 0L66 0L66 55L100 40L50 100L0 40L34 55Z';
const STEM_UP='path://M50 0L85 42L60 42L60 100L40 100L40 42L15 42Z';
const STEM_DN='path://M40 0L60 0L60 58L85 58L50 100L15 58L40 58Z';
const series=[],visualMap=[];
function add(s){series.push(s);return series.length-1;}
const main={xAxisIndex:0,yAxisIndex:0},low={xAxisIndex:1,yAxisIndex:1};
function line(data,ax,color,width,type,z,extra){return add(Object.assign({type:'line',data,...ax,showSymbol:false,symbol:'none',silent:true,z,lineStyle:{color,width,type},animation:false},extra||{}));}
function runLine(data,runs,width,z){const idx=line(data,main,'#fff',width,'solid',z,{lineStyle:{width,cap:'round',join:'round'}});
 visualMap.push({type:'piecewise',show:false,seriesIndex:idx,dimension:0,pieces:runs.map(r=>({gte:r[0],lt:r[1],color:PAL[r[2]]})),outOfRange:{color:'#000'}});}
function dots(data,ax,symbol,w,h,color,z,extra){add(Object.assign({type:'scatter',data,...ax,symbol,symbolSize:[w,h],silent:true,z,itemStyle:{color,opacity:1},animation:false},extra||{}));}
function fan(rows,color){add({type:'custom',...main,data:rows,z:2,silent:true,clip:true,animation:false,encode:{x:0,y:[1,2]},renderItem:(p,api)=>{const a=api.coord([api.value(0),api.value(1)]),b=api.coord([api.value(0),api.value(2)]);return {type:'line',shape:{x1:a[0],y1:a[1],x2:b[0],y2:b[1]},style:{stroke:color,lineWidth:1.2}};}});}
add({type:'line',...main,data:[],z:1,silent:true,animation:false,markArea:{silent:true,z:1,data:zones.map(q=>[{xAxis:q[0],yAxis:q[2],itemStyle:{color:q[4]==='r'?'#420000':'#043b04',opacity:1}},{xAxis:q[1],yAxis:q[3]}])}});
function hlevel(v,color,width,type){add({type:'line',...main,data:[],z:3,silent:true,animation:false,markLine:{silent:true,symbol:'none',animation:false,label:{show:false},lineStyle:{color,width,type},data:[{yAxis:v}]}});}
fan(redFan,'#6e0000');fan(greenFan,'#0e6a4f');
[[redBandA],[redBandB],[redBandC]].forEach(b=>line(b[0],main,'#C8102E',1.3,[2,3],2));
[[greenBandU],[greenBandM],[greenBandB]].forEach(b=>line(b[0],main,'#0d7a55',1.3,[2,3],2));
hlevel(levelThinCyan,'#00BFFF',1,'solid');hlevel(levelPurple,'#6A5ACD',6,'solid');hlevel(levelPurpleDash,'#6A5ACD',1,[3,3]);hlevel(levelPivot,'#00BFFF',4,'solid');hlevel(levelOpen,'#8B0000',4,'solid');hlevel(levelOpenDash,'#808000',1,[3,3]);hlevel(levelAsk,'#DAA520',1,'solid');hlevel(levelBid,'#F0FFFF',1.5,'solid');
shortLevels.forEach(s=>line([[s[0],s[1]],[s[2],s[1]]],main,'#FFFFFF',3,'solid',3));
line(zigzag,main,'#FFFFFF',1.2,[2,3],3);
trendOrange.forEach(t=>line(t,main,'#FF4500',1.2,'solid',4));
trendGreen.forEach(t=>line(t,main,'#32CD32',1.2,'solid',4));
trendMagenta.forEach(t=>line(t,main,'#FF00FF',1.2,[3,3],4));
trendLight.forEach(t=>line(t,main,'#87CEFA',1.2,[3,3],4));
add({type:'candlestick',...main,data:candleData,barWidth:6,z:5,silent:true,progressive:0,animation:false,clip:true});
runLine(trendMA,trendRuns,8,6);runLine(slowMA,slowRuns,5.5,7);runLine(midMA,midRuns,5.5,7);runLine(fastMA,fastRuns,4,8);
dots(haloDots,main,'circle',33,33,'#4169E1',8);
dots(redDots,main,'circle',19,19,'#FF0000',9);dots(greenDots,main,'circle',19,19,'#00FF00',9);
dots(arrowsOrange,main,SE,22,22,'#FF4500',10);dots(arrowsMagenta,main,SE,22,20,'#FF00FF',10);
dots(arrowsGreen,main,SE,20,20,'#32CD32',10,{symbolRotate:90});dots(arrowsLight,main,SE,20,20,'#87CEFA',10,{symbolRotate:90});
dots(arrowsCyan,main,UP,24,28,'#00FFFF',10);dots(arrowsLime,main,UP,24,28,'#00FF00',10);
dots(arrowsGold,main,DOWN,26,30,'#FFC800',10,{itemStyle:{color:'#FFC800',borderColor:'#FF2000',borderWidth:1.5,opacity:1}});
dots(iconFrames.slice(0,1),main,'rect',56,56,'#FFD700',11);dots(iconFrames.slice(1),main,'rect',56,56,'#0000FF',11);
dots(iconsDown,main,'rect',44,43,'#FF1493',12);dots(iconsUp,main,'rect',44,43,'#32CD32',12);
dots(iconsDown.concat(iconsUp),main,'circle',35,33,'#FFFFFF',13);
dots(iconsDown,main,STEM_DN,24,33,'#FF1493',14);dots(iconsUp,main,STEM_UP,24,33,'#32CD32',14);
add({type:'scatter',...main,symbolSize:0,silent:true,z:15,animation:false,data:priceTags.map(t=>{const big=t[2]==='3445.57',box=t[2]==='3420.00'||t[2]==='3410.00',lime=['3451.57','3492.57','3414.17'].includes(t[2]);const col=(big||box)?'#FFFFFF':lime?'#00FF00':'#FF00FF';
 return {value:[t[0],t[1]],label:{show:true,position:'right',distance:0,formatter:t[2],color:col,fontFamily:'Liberation Sans',fontSize:big?46:box?17:31,borderColor:col,borderWidth:1,padding:big?[6,2,4,2]:box?[1,1,0,1]:[3,1,2,1],backgroundColor:big?'#000':'transparent'}};})});
add({type:'bar',...low,barWidth:7,z:2,silent:true,animation:false,data:oscValues.map((v,i)=>({value:v,itemStyle:{color:oscLimeBars.includes(i)?'#00FF00':oscOrangeBars.includes(i)?'#FF4500':v>=0?'#E0FFFF':'#4169E1'}}))});
line(oscZero,low,'#DDDDDD',1,[3,3],3);
line(oscValues,low,'#808080',2,'solid',4);
line(oscSignal,low,'#B22222',3,'solid',5);
line(oscGreen,low,'#008000',3,'solid',5);
oscTrendOrange.forEach(t=>line(t,low,'#FF4500',1.2,'solid',6));
oscTrendGreen.forEach(t=>line(t,low,'#32CD32',1.2,'solid',6));
oscTrendMagenta.forEach(t=>line(t,low,'#FF00FF',1.2,[3,3],6));
oscTrendLight.forEach(t=>line(t,low,'#87CEFA',1.2,[3,3],6));
dots(oscArrowsOrange,low,SE,20,24,'#FF4500',7);dots(oscArrowsMagenta,low,SE,18,22,'#FF00FF',7);
dots(oscArrowsGreen,low,SE,18,18,'#32CD32',7,{symbolRotate:90});dots(oscArrowsLight,low,SE,18,18,'#87CEFA',7,{symbolRotate:90});

const SANS='"Liberation Sans"',MONO='"DejaVu Sans Mono"',DV='"DejaVu Sans"';
const g=[];
function T(x,y,text,font,fill,align){g.push({type:'text',x,y,z:200,silent:true,style:{text,fill,font,align:align||'left',verticalAlign:'middle',textAlign:align||'left',textVerticalAlign:'middle'}});}
function R(x,y,w,h,fill,stroke){g.push({type:'rect',z:190,silent:true,shape:{x,y,width:w,height:h},style:{fill,stroke:stroke||null,lineWidth:stroke?1:0}});}
g.push({type:'polygon',z:200,silent:true,shape:{points:[[6,9],[18,9],[12,17]]},style:{fill:ORANGE}});
T(24,14,'ETHUSD,M1','15px '+SANS,ORANGE);
R(207,24,64,18,'#4a4a4a','#777');T(239,33,'ACC or','20px '+SANS,'#FFF','center');
R(304,24,74,18,'#4a4a4a','#777');T(341,33,'EMA','20px '+SANS,'#FFF','center');
R(11,68,477,17,'#333','#444');
[[32,'Panel'],[112,'Grid'],[190,'Alert'],[241,'Virtual Orde'],[349,'Time'],[405,'Information']].forEach(a=>T(a[0],77,a[1],'15.5px '+SANS,'#DDD'));
R(27,547,78,181,'#2b2b2b');T(30,556,'Menu','bold 15px '+SANS,'#FFF');
R(31,570,49,21,'#90EE90','#555');T(34,581,'0.10','24px '+SANS,'#111');
R(81,570,19,11,'#1E78D2');T(90,575,'+','bold 14px '+SANS,'#FFF','center');R(81,581,19,10,'#A52A2A');T(90,586,'-','bold 13px '+SANS,'#FFF','center');
[['BUY',596,1],['SELL',618,0],['Buy Stop',640,1],['Sell Stop',662,0],['Buy Limit',684,1],['Sell Limit',706,0]].forEach(b=>{R(34,b[1],65,18,b[2]?'#1878D2':'#A83030','#555');T(66.5,b[1]+9,b[0],'15.5px '+SANS,'#FFF','center');});
R(5,1290,40,20,'#000','#666');T(25,1300,'ON','14px '+SANS,'#999','center');
T(11,1328,'Daily Trading Ideas  \u00A9 2021','13.5px '+SANS,'#E6D27A');
R(387,1305,100,30,'#8B0000');T(437,1320,'ADR D1','bold 24px '+SANS,'#BBB','center');
R(504,1306,62,18,'#8B0000');T(535,1315,'TrueTL','bold 16px '+SANS,'#FFF','center');
T(8,1355,'ew div1: M1 Eliot oscillator of LWMA ( 5,35) -5.8985 11.8375 -15.4860 -5.8985','15px '+SANS,ORANGE);
T(1566,289,'EXIT BUY','12px '+SANS,'#888');T(1552,301,'DE1^','12px '+SANS,'#888');T(1552,1032,'MR1^','12px '+SANS,'#888');
T(3440,292,'23.6%','bold 29px '+MONO,'#FFF');T(3404,442,'BUY/Pivot','bold 29px '+MONO,'#00BFFF');
T(3421,1021,'OPEN DN','bold 29px '+MONO,'#8B0000');T(3574,1021,'yClose','bold 29px '+MONO,ORANGE);
T(3177,1012,'Day Open','17px '+SANS,'#FFD700');T(3140,1203,'<0:34','17px '+SANS,'#7FFFD4');
g.push({type:'circle',z:200,silent:true,shape:{cx:3132,cy:1159,r:5},style:{fill:'#CCC'}});g.push({type:'circle',z:200,silent:true,shape:{cx:3132,cy:1192,r:5},style:{fill:'#00FF00'}});
T(3652,16,'Vr Stealth Pro','15px '+SANS,'#B87A10');
R(3684,4,80,22,'rgba(70,70,70,.7)');T(3673,13,'VR Stealth Pro','15.5px '+SANS,'#FFF');
g.push({type:'circle',z:200,silent:true,shape:{cx:3756,cy:15,r:7},style:{fill:'none',stroke:'#6a9a6a',lineWidth:1}});
T(3759,41,'3404.9','48px '+SANS,'#00FF7F','right');
T(3633,60,'High-Low','19px '+SANS,'#B0C4DE');T(3759,58,'3714','22px '+SANS,'#FFF','right');
T(3634,80,'Pips-Open:','19px '+SANS,'#B0C4DE');T(3759,78,'-266','23px '+SANS,'#FF0000','right');
T(3661,100,'Spread:','19px '+SANS,'#B0C4DE');T(3759,98,'46.3','22px '+SANS,'#FFF','right');
T(3759,124,'ETHUSDM1','27px '+SANS,'#FFFF00','right');
[[3558,'M5'],[3583,'M15'],[3641,'H1'],[3681,'H4'],[3721,'D1']].forEach(a=>T(a[0],152,a[1],'26px '+SANS,'#B0C4DE'));
T(3439,176,'ETHUSD','27px '+SANS,'#B0C4DE');
const SE_PTS=[[20,0],[0,20],[55,75],[25,75],[25,100],[100,100],[100,25],[75,25],[75,55]];
[3567,3607,3646,3686,3726].forEach(x=>g.push({type:'polygon',z:200,silent:true,shape:{points:SE_PTS.map(p=>[x+p[0]*.23,166+p[1]*.23])},style:{fill:'#FF4500'}}));
T(3669,215,'00:00:37','20px '+SANS,ORANGE);
R(3766,1151,62,17,'#DAA520');T(3771,1160,'3409.52','14.5px '+SANS,'#222');
R(3766,1184,62,17,ORANGE);T(3771,1193,'3404.89','14.5px '+SANS,'#111');
R(3613,1353,142,321,'#1F2A36');
g.push({type:'line',z:191,silent:true,shape:{x1:3613,y1:1353,x2:3755,y2:1353},style:{stroke:'#FFF',lineWidth:1}});
g.push({type:'line',z:191,silent:true,shape:{x1:3613,y1:1353,x2:3613,y2:1674},style:{stroke:'#FFF',lineWidth:1}});
g.push({type:'line',z:191,silent:true,shape:{x1:3755,y1:1353,x2:3755,y2:1674},style:{stroke:'#CFE',lineWidth:1}});
T(3745,1381,'ETHUSD','bold 40px "Liberation Sans Narrow",'+SANS,'#FFF','right');
T(3745,1404,'3404.89','bold 30px '+DV,'#EE82EE','right');
T(3739,1419,'SPD:46.3','bold 21px '+MONO,'#FFF','right');
T(3674,1453,'Open','bold 21px '+MONO,'#FFD700');
T(3737,1470,'3431.49','bold 24px '+DV,'#EE82EE','right');
T(3640,1487,'BidRatio','bold 21px '+MONO,'#FFD700');
g.push({type:'rect',z:201,silent:true,shape:{x:3635,y:1492,width:108,height:36},style:{fill:'#426B95'}});
g.push({type:'text',x:3738,y:1513,z:202,silent:true,style:{text:'58%',fill:'#A8A8A8',font:'bold 38px "Open Sans"',align:'right',verticalAlign:'middle',textAlign:'right',textVerticalAlign:'middle'}});
function S(x,x2,y,a,b,ca,cb){g.push({type:'text',x,y,z:203,silent:true,style:{text:a,fill:ca,font:'21px '+SANS,align:'left',verticalAlign:'middle',textAlign:'left',textVerticalAlign:'middle'}});g.push({type:'text',x:x2,y,z:203,silent:true,style:{text:b,fill:cb,font:'21px '+SANS,align:'right',verticalAlign:'middle',textAlign:'right',textVerticalAlign:'middle'}});}
S(3656,3743,1532,'PFO','-266','#FFF','#EE82EE');S(3656,3743,1548,'HiLo','3714','#999','#999');S(3654,3743,1563,'ADR','4310','#FFF','#32CD32');S(3655,3743,1579,'61%','2664','#FFF','#FFF');S(3655,3743,1596,'38%','1646','#FFF','#FFF');
T(3656,1613,'ADR:D1','bold 21px '+MONO,'#FFD700');
g.push({type:'rect',z:201,silent:true,shape:{x:3636,y:1619,width:108,height:36},style:{fill:'#7F3F6A'}});
g.push({type:'text',x:3740,y:1639,z:202,silent:true,style:{text:'6%',fill:'#A8A8A8',font:'bold 38px "Open Sans"',align:'right',verticalAlign:'middle',textAlign:'right',textVerticalAlign:'middle'}});

const axisFont={color:ORANGE,fontFamily:'Liberation Sans',fontSize:14.5};
const chart=echarts.init(document.getElementById('c'),null,{renderer:'canvas',width:3836,height:1701});
chart.setOption({animation:false,backgroundColor:'#000',
 grid:[{left:3,top:3,width:3761,height:1337,show:true,borderColor:ORANGE,borderWidth:1,backgroundColor:'transparent'},{left:3,top:1343,width:3761,height:331,show:true,borderColor:ORANGE,borderWidth:1,backgroundColor:'transparent'}],
 xAxis:[{type:'category',gridIndex:0,data:CAT,boundaryGap:false,axisLine:{show:false},axisTick:{show:false},axisLabel:{show:false},splitLine:{show:false}},
 {type:'category',gridIndex:1,data:CAT,boundaryGap:false,axisLine:{show:true,lineStyle:{color:ORANGE}},axisTick:{show:true,length:4,interval:i=>i%16===0&&i<=384,lineStyle:{color:ORANGE}},axisLabel:{...axisFont,interval:i=>i%16===0&&i<=384,align:'left',margin:7},splitLine:{show:false}}],
 yAxis:[{type:'value',gridIndex:0,position:'right',min:3384.35,max:3571.12,axisLine:{show:true,lineStyle:{color:ORANGE}},axisTick:{show:true,length:5,customValues:priceTicks,lineStyle:{color:ORANGE}},axisLabel:{...axisFont,margin:7,customValues:priceTicks,formatter:v=>v.toFixed(2)},splitLine:{show:false}},
 {type:'value',gridIndex:1,position:'right',min:oscTicks[0],max:oscTicks[2],axisLine:{show:true,lineStyle:{color:ORANGE}},axisTick:{show:true,length:5,customValues:oscTicks,lineStyle:{color:ORANGE}},axisLabel:{...axisFont,margin:7,customValues:oscTicks,verticalAlignMinLabel:'bottom',verticalAlignMaxLabel:'top',formatter:v=>v===0?'0.00':v.toFixed(4)},splitLine:{show:false}}],
 visualMap,series,graphic:g});
</script></body></html>
